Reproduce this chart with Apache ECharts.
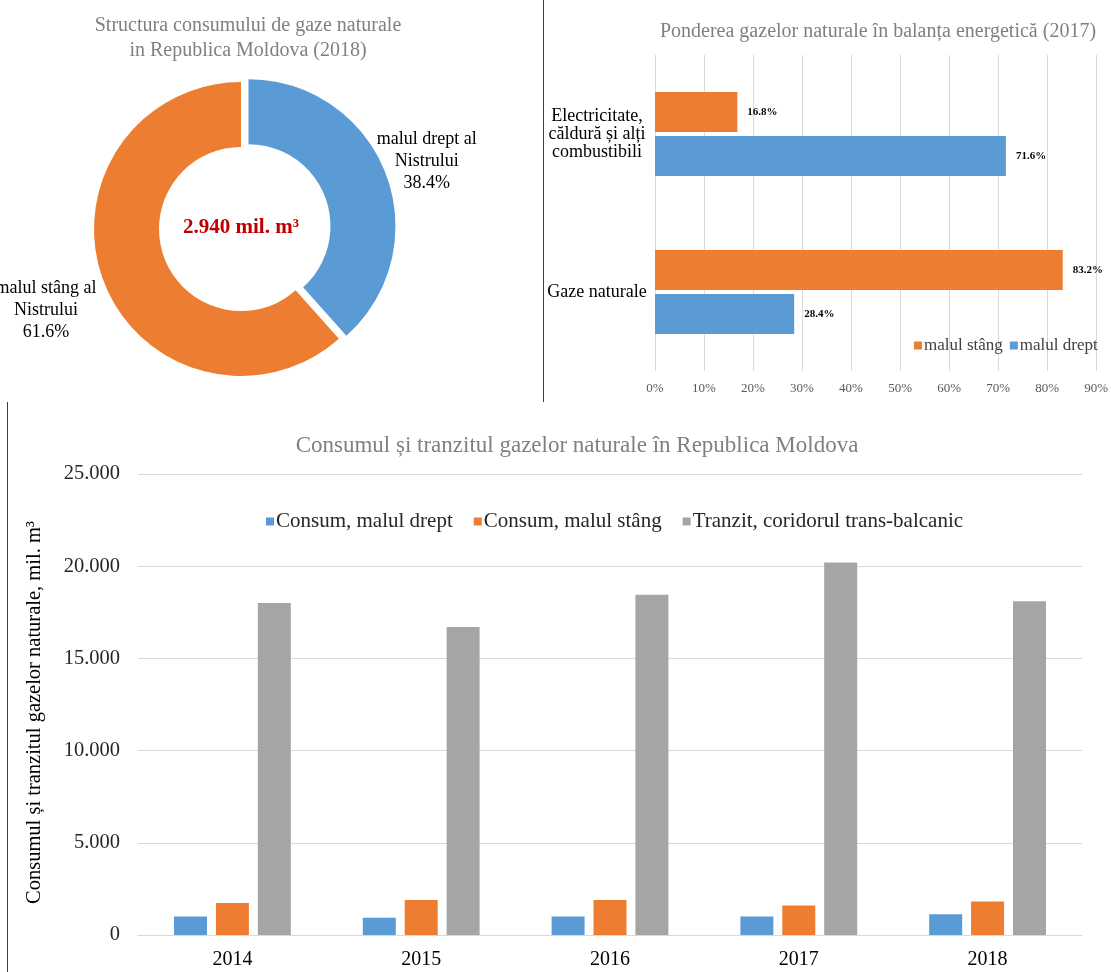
<!DOCTYPE html>
<html>
<head>
<meta charset="utf-8">
<script src="https://cdn.jsdelivr.net/npm/echarts@6/dist/echarts.min.js"></script>
<style>
html,body{margin:0;padding:0;background:#fff;}
#main{width:1111px;height:972px;}
</style>
</head>
<body>
<div id="main"></div>
<script>
// ---- Donut: structure of consumption 2018 ----
var pieNames = ['malul drept al\nNistrului', 'malul stâng al\nNistrului'];
var pieShares = [38.4, 61.6];
var pieTotal = '2.940 mil. m³';

// ---- Horizontal bars: share in energy balance 2017 ----
var balCategories = ['Electricitate,\ncăldură și alți\ncombustibili', 'Gaze naturale'];
var balStang = [16.8, 83.2];
var balDrept = [71.6, 28.4];

// ---- Bottom bars: consumption and transit ----
var years = ['2014', '2015', '2016', '2017', '2018'];
var consDrept = [1000, 940, 1000, 1000, 1129];
var consStang = [1740, 1900, 1900, 1600, 1811];
var tranzit = [18000, 16700, 18450, 20200, 18100];

var BLUE = '#5b9bd5', ORANGE = '#ed7d31', GRAY = '#a5a5a5';
var SERIF = '"Liberation Serif", "Times New Roman", serif';

function fmtThousands(v) {
  var s = String(Math.round(v));
  return s.replace(/\B(?=(\d{3})+(?!\d))/g, '.');
}

var chart = echarts.init(document.getElementById('main'), null, {renderer: 'canvas'});

var option = {
  backgroundColor: '#fff',
  animation: false,
  textStyle: {fontFamily: SERIF},
  title: [
    {
      text: 'Structura consumului de gaze naturale\nin Republica Moldova (2018)',
      left: 243, top: 8, textAlign: 'center',
      textStyle: {fontFamily: SERIF, fontSize: 20, fontWeight: 'normal', color: '#808080', lineHeight: 25}
    },
    {
      text: 'Ponderea gazelor naturale în balanța energetică (2017)',
      left: 873, top: 17, textAlign: 'center',
      textStyle: {fontFamily: SERIF, fontSize: 20, fontWeight: 'normal', color: '#808080'}
    },
    {
      text: 'Consumul și tranzitul gazelor naturale în Republica Moldova',
      left: 572, top: 429, textAlign: 'center',
      textStyle: {fontFamily: SERIF, fontSize: 23, fontWeight: 'normal', color: '#808080'}
    },
    {
      text: pieTotal,
      left: 236, top: 212, textAlign: 'center',
      textStyle: {fontFamily: SERIF, fontSize: 21, fontWeight: 'bold', color: '#c00000'}
    }
  ],
  legend: [
    {
      data: ['malul stâng', 'malul drept'],
      left: 909, top: 332,
      itemWidth: 8, itemHeight: 8, itemGap: 7,
      icon: 'rect',
      textStyle: {fontFamily: SERIF, fontSize: 17, color: '#404040', padding: [0, 0, 0, -3]}
    },
    {
      data: ['Consum, malul drept', 'Consum, malul stâng', 'Tranzit, coridorul trans-balcanic'],
      left: 261, top: 506,
      itemWidth: 8, itemHeight: 8, itemGap: 21,
      icon: 'rect',
      textStyle: {fontFamily: SERIF, fontSize: 21, color: '#262626', padding: [0, 0, 0, -3]}
    }
  ],
  grid: [
    {left: 655, right: 14, top: 55, bottom: 601},
    {left: 138, right: 29, top: 474, bottom: 37}
  ],
  xAxis: [
    {
      type: 'value', gridIndex: 0, min: 0, max: 90, interval: 10,
      axisLine: {show: false}, axisTick: {show: false},
      splitLine: {show: true, lineStyle: {color: '#d9d9d9', width: 1}},
      axisLabel: {formatter: '{value}%', fontFamily: SERIF, fontSize: 13, color: '#595959', margin: 11}
    },
    {
      type: 'category', gridIndex: 1, data: years,
      axisLine: {show: true, lineStyle: {color: '#d9d9d9', width: 1}},
      axisTick: {show: false},
      axisLabel: {fontFamily: SERIF, fontSize: 20, color: '#000', margin: 15}
    }
  ],
  yAxis: [
    {
      type: 'category', gridIndex: 0, data: balCategories, inverse: true,
      axisLine: {show: false}, axisTick: {show: false},
      axisLabel: {fontFamily: SERIF, fontSize: 18, lineHeight: 18, color: '#000', align: 'center', margin: 58}
    },
    {
      type: 'value', gridIndex: 1, min: 0, max: 25000, interval: 5000,
      name: 'Consumul și tranzitul gazelor naturale, mil. m³',
      nameLocation: 'middle', nameGap: 93, nameRotate: 90,
      nameTextStyle: {fontFamily: SERIF, fontSize: 20.5, color: '#000', padding: [0, 16, 0, 0]},
      axisLine: {show: false}, axisTick: {show: false},
      splitLine: {show: true, lineStyle: {color: '#d9d9d9', width: 1}},
      axisLabel: {fontFamily: SERIF, fontSize: 20.5, color: '#262626', margin: 18,
        formatter: function (v) { return fmtThousands(v); }}
    }
  ],
  series: [
    {
      type: 'pie',
      center: [241, 229],
      radius: [82, 147],
      startAngle: 90,
      clockwise: true,
      avoidLabelOverlap: false,
      selectedMode: 'single',
      selectedOffset: 8,
      label: {
        show: true, position: 'outside',
        fontFamily: SERIF, fontSize: 18, lineHeight: 22, color: '#000', align: 'center',
        formatter: function (p) { return p.name + '\n' + p.value.toFixed(1) + '%'; }
      },
      labelLine: {show: false},
      labelLayout: function (p) {
        if (p.dataIndex === 0) return {align: 'center', verticalAlign: 'middle', dx: -8, dy: -7};
        return {x: 46, y: 310, align: 'center', verticalAlign: 'middle'};
      },
      emphasis: {disabled: true},
      data: [
        {name: pieNames[0], value: pieShares[0], selected: true, itemStyle: {color: BLUE}},
        {name: pieNames[1], value: pieShares[1], itemStyle: {color: ORANGE}}
      ]
    },
    {
      name: 'malul stâng', type: 'bar', xAxisIndex: 0, yAxisIndex: 0,
      data: balStang, barWidth: 40, barGap: '10%',
      itemStyle: {color: ORANGE},
      label: {show: true, position: 'right', distance: 10, formatter: '{c}%',
        fontFamily: SERIF, fontSize: 11, fontWeight: 'bold', color: '#000'}
    },
    {
      name: 'malul drept', type: 'bar', xAxisIndex: 0, yAxisIndex: 0,
      data: balDrept, barWidth: 40, barGap: '10%',
      itemStyle: {color: BLUE},
      label: {show: true, position: 'right', distance: 10, formatter: '{c}%',
        fontFamily: SERIF, fontSize: 11, fontWeight: 'bold', color: '#000'}
    },
    {
      name: 'Consum, malul drept', type: 'bar', xAxisIndex: 1, yAxisIndex: 1,
      data: consDrept, barWidth: 33, barGap: '27%', itemStyle: {color: BLUE}
    },
    {
      name: 'Consum, malul stâng', type: 'bar', xAxisIndex: 1, yAxisIndex: 1,
      data: consStang, barWidth: 33, barGap: '27%', itemStyle: {color: ORANGE}
    },
    {
      name: 'Tranzit, coridorul trans-balcanic', type: 'bar', xAxisIndex: 1, yAxisIndex: 1,
      data: tranzit, barWidth: 33, barGap: '27%', itemStyle: {color: GRAY}
    }
  ],
  graphic: [
    {type: 'line', shape: {x1: 543.5, y1: 0, x2: 543.5, y2: 402}, style: {stroke: '#404040', lineWidth: 1}, silent: true},
    {type: 'line', shape: {x1: 7.5, y1: 402, x2: 7.5, y2: 972}, style: {stroke: '#404040', lineWidth: 1}, silent: true}
  ]
};

chart.setOption(option);
</script>
</body>
</html>
